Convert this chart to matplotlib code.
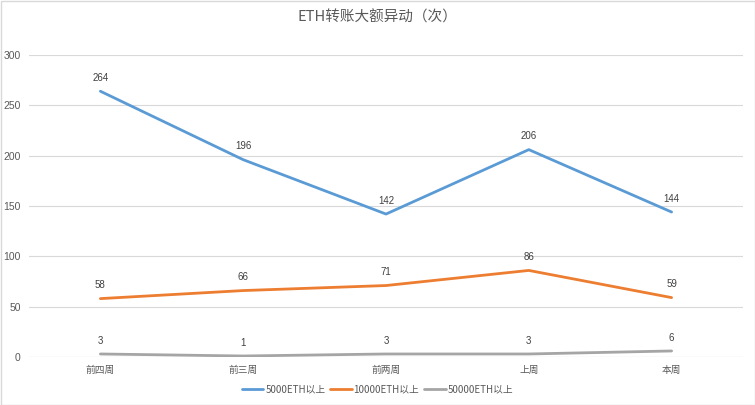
import matplotlib
matplotlib.use("Agg")
import matplotlib.pyplot as plt
from matplotlib.patches import Rectangle

plt.rcParams['font.family'] = ['Noto Sans CJK SC', 'DejaVu Sans']

weeks = ['前四周', '前三周', '前两周', '上周', '本周']
eth_5000 = [264, 196, 142, 206, 144]
eth_10000 = [58, 66, 71, 86, 59]
eth_50000 = [3, 1, 3, 3, 6]
names = ['5000ETH以上', '10000ETH以上', '50000ETH以上']
colors = ['#5b9bd5', '#ed7d31', '#a5a5a5']

fig = plt.figure(figsize=(7.55, 4.05), dpi=100)
ax = fig.add_axes([29 / 755, 1 - 357 / 405, 714 / 755, 302 / 405])

x = list(range(len(weeks)))
for vals, name, c in zip([eth_5000, eth_10000, eth_50000], names, colors):
    ax.plot(x, vals, color=c, lw=2.0, label=name, solid_capstyle='round')
    for xi, v in zip(x, vals):
        ax.annotate(str(v), (xi, v), xytext=(0, 9.5), textcoords='offset points',
                    ha='center', va='center', fontsize=7, color='#404040',
                    family=['Liberation Sans', 'DejaVu Sans'])

ax.set_xlim(-0.5, 4.5)
ax.set_ylim(0, 300)
ax.set_yticks(range(0, 301, 50))
ax.set_xticks(x)
ax.set_xticklabels(weeks, fontsize=7, color='#595959')
for lab in ax.get_yticklabels():
    lab.set_fontsize(7.5)
    lab.set_color('#595959')
    lab.set_family(['Liberation Sans', 'DejaVu Sans'])
ax.tick_params(length=0, pad=6)
ax.grid(axis='y', color='#d9d9d9', lw=0.8)
ax.set_axisbelow(True)
for s in ax.spines.values():
    s.set_visible(False)
ax.axhline(0, color='#d9d9d9', lw=0.8, zorder=0)

fig.text(0.5, 1 - 17 / 405, 'ETH转账大额异动（次）', ha='center', va='center',
         fontsize=10.5, color='#595959')

leg = fig.legend(loc='center', bbox_to_anchor=(0.5, 1 - 389 / 405), ncol=3,
                 frameon=False, fontsize=7, handlelength=2.2, columnspacing=0.5,
                 handletextpad=0.2)
for t in leg.get_texts():
    t.set_color('#595959')

fig.patches.append(Rectangle((0.5 / 755, 0.5 / 405), 1 - 1 / 755, 1 - 1 / 405,
                             transform=fig.transFigure, fill=False,
                             edgecolor='#d9d9d9', lw=1))

fig.savefig('out.png', dpi=100)
